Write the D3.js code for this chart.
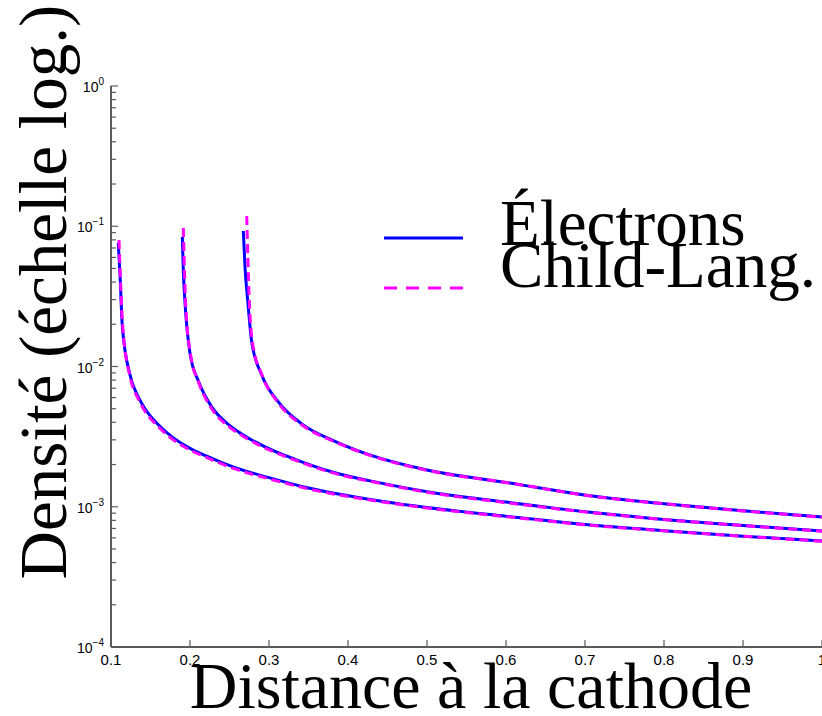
<!DOCTYPE html>
<html>
<head>
<meta charset="utf-8">
<script src="https://cdn.jsdelivr.net/npm/d3@7"></script>
<style>
  body { margin: 0; background: #fff; }
  svg { display: block; }
  .tick_label { font-family: "Liberation Sans", Arial, sans-serif; fill: #000; }
  .big_text { font-family: "Liberation Serif", "Times New Roman", serif; fill: #000; }
</style>
</head>
<body>
<svg></svg>
<script>
let svgWidth = 822;
let svgHeight = 716;

// three density profiles (distance, density)
let elec1_x = [0.1092, 0.1114, 0.1143, 0.1241, 0.135, 0.143, 0.16, 0.1768, 0.2, 0.219, 0.257, 0.2987, 0.35, 0.4405, 0.5, 0.6, 0.719, 0.8, 0.9, 1.0];
let elec1_y = [0.0760, 0.0449, 0.0195, 0.0087, 0.0060, 0.0050, 0.00384, 0.00316, 0.00261, 0.00232, 0.00190, 0.00162, 0.00136, 0.00110, 0.000987, 0.000855, 0.000731, 0.000675, 0.000617, 0.000570];
let elec2_x = [0.1903, 0.1915, 0.1937, 0.2000, 0.2105, 0.2275, 0.25, 0.2654, 0.3076, 0.3329, 0.38, 0.4405, 0.5, 0.6, 0.719, 0.8, 0.9, 1.0];
let elec2_y = [0.0838, 0.0488, 0.0284, 0.0124, 0.0079, 0.00515, 0.0038, 0.00330, 0.00248, 0.00218, 0.00177, 0.00148, 0.00128, 0.00108, 0.000898, 0.000812, 0.000735, 0.000671];
let elec3_x = [0.2675, 0.2696, 0.2730, 0.2781, 0.2908, 0.3118, 0.3414, 0.3835, 0.4405, 0.5, 0.6, 0.719, 0.8, 0.9, 1.0];
let elec3_y = [0.0925, 0.0515, 0.0298, 0.0150, 0.0087, 0.0056, 0.00390, 0.00293, 0.00222, 0.00183, 0.00149, 0.001172, 0.00105, 0.000935, 0.000845];

let child1_x = [0.1101, 0.1150, 0.1245, 0.135, 0.143, 0.16, 0.1768, 0.2, 0.219, 0.257, 0.2987, 0.35, 0.4405, 0.5, 0.6, 0.719, 0.8, 0.9, 1.0];
let child1_y = [0.0798, 0.0188, 0.0083, 0.0058, 0.0048, 0.00372, 0.00306, 0.00254, 0.00227, 0.00186, 0.00159, 0.00134, 0.00109, 0.00098, 0.00085, 0.000728, 0.000673, 0.000616, 0.000568];
let child2_x = [0.1915, 0.1945, 0.2008, 0.2110, 0.2275, 0.25, 0.2654, 0.3076, 0.3329, 0.38, 0.4405, 0.5, 0.6, 0.719, 0.8, 0.9, 1.0];
let child2_y = [0.0972, 0.0278, 0.0121, 0.0077, 0.00500, 0.00370, 0.00323, 0.00244, 0.00215, 0.00175, 0.00147, 0.00127, 0.00107, 0.000895, 0.00081, 0.000734, 0.00067];
let child3_x = [0.2718, 0.2750, 0.2791, 0.2915, 0.3118, 0.3414, 0.3835, 0.4405, 0.5, 0.6, 0.719, 0.8, 0.9, 1.0];
let child3_y = [0.1184, 0.0298, 0.0148, 0.0086, 0.0055, 0.00384, 0.00290, 0.00221, 0.00182, 0.00149, 0.00117, 0.00105, 0.000933, 0.000843];

let x_ticks = [0.1, 0.2, 0.3, 0.4, 0.5, 0.6, 0.7, 0.8, 0.9, 1];
let y_exponents = [0, -1, -2, -3, -4];
let legend_labels = ["Électrons", "Child-Lang."];
let x_title = "Distance à la cathode";
let y_title = "Densité (échelle log.)";

let axisColor = "#5a5a5a";

let svg = d3.select('svg').attr('width', svgWidth).attr('height', svgHeight);

let xScale = d3.scaleLinear().domain([0.1, 1]).range([111, 822]);
let yScale = d3.scaleLog().domain([1e-4, 1]).range([647, 86]);

function setup_axis(){
    let g = svg.append('g');

    // minor ticks on the log axis: 2..9 in each decade
    let minor = [];
    for(let e = -4; e < 0; e++){
        for(let m = 2; m <= 9; m++){
            minor.push(m * Math.pow(10, e));
        }
    }
    g.selectAll('.minor').data(minor).enter().append('line')
        .attr('x1', xScale(0.1)).attr('x2', xScale(0.1) + 5)
        .attr('y1', d => yScale(d)).attr('y2', d => yScale(d))
        .attr('stroke', axisColor).attr('stroke-width', 1.2);

    g.selectAll('.major_y').data(y_exponents).enter().append('line')
        .attr('x1', xScale(0.1)).attr('x2', xScale(0.1) + 7)
        .attr('y1', d => yScale(Math.pow(10, d))).attr('y2', d => yScale(Math.pow(10, d)))
        .attr('stroke', axisColor).attr('stroke-width', 1.2);

    g.selectAll('.major_x').data(x_ticks).enter().append('line')
        .attr('x1', d => xScale(d)).attr('x2', d => xScale(d))
        .attr('y1', yScale(1e-4)).attr('y2', yScale(1e-4) - 7)
        .attr('stroke', axisColor).attr('stroke-width', 1.2);

    // axis lines
    g.append('line')
        .attr('x1', xScale(0.1)).attr('x2', xScale(0.1))
        .attr('y1', yScale(1)).attr('y2', yScale(1e-4))
        .attr('stroke', axisColor).attr('stroke-width', 2);
    g.append('line')
        .attr('x1', xScale(0.1)).attr('x2', xScale(1))
        .attr('y1', yScale(1e-4)).attr('y2', yScale(1e-4))
        .attr('stroke', axisColor).attr('stroke-width', 2);

    // tick labels
    g.selectAll('.xlab').data(x_ticks).enter().append('text')
        .attr('class', 'tick_label')
        .attr('x', d => xScale(d))
        .attr('y', yScale(1e-4) + 18)
        .attr('text-anchor', 'middle')
        .attr('font-size', 15)
        .text(d => d3.format('.1~f')(d));

    let ylab = g.selectAll('.ylab').data(y_exponents).enter().append('text')
        .attr('class', 'tick_label')
        .attr('x', xScale(0.1) - 7)
        .attr('y', d => yScale(Math.pow(10, d)) + 6)
        .attr('text-anchor', 'end')
        .attr('font-size', 14);
    ylab.append('tspan').text('10');
    ylab.append('tspan').attr('font-size', 10).attr('dy', -7)
        .text(d => d === 0 ? '0' : '\u2212' + Math.abs(d));
}

function draw_line(xs, ys, color, dash){
    let pts = xs.map((v, i) => [xScale(v), yScale(ys[i])]);
    let lineFunction = d3.line().curve(d3.curveMonotoneX);
    let path = svg.append('path')
        .attr('d', lineFunction(pts))
        .attr('fill', 'none')
        .attr('stroke', color)
        .attr('stroke-width', 3);
    if(dash){
        path.attr('stroke-dasharray', dash);
    }
}

setup_axis();

draw_line(elec1_x, elec1_y, '#0000ff', null);
draw_line(elec2_x, elec2_y, '#0000ff', null);
draw_line(elec3_x, elec3_y, '#0000ff', null);
draw_line(child1_x, child1_y, '#ff00ff', '9,5');
draw_line(child2_x, child2_y, '#ff00ff', '9,5');
draw_line(child3_x, child3_y, '#ff00ff', '9,5');

// legend
let legend = svg.append('g');
legend.append('line')
    .attr('x1', 384).attr('x2', 463).attr('y1', 238).attr('y2', 238)
    .attr('stroke', '#0000ff').attr('stroke-width', 3);
legend.append('line')
    .attr('x1', 384).attr('x2', 463).attr('y1', 288).attr('y2', 288)
    .attr('stroke', '#ff00ff').attr('stroke-width', 3)
    .attr('stroke-dasharray', '13,9');
legend.append('text').attr('class', 'big_text')
    .attr('x', 500).attr('y', 245).attr('font-size', 65)
    .text(legend_labels[0]);
legend.append('text').attr('class', 'big_text')
    .attr('x', 500).attr('y', 287).attr('font-size', 65)
    .text(legend_labels[1]);

// axis titles
svg.append('text').attr('class', 'big_text')
    .attr('x', 471).attr('y', 708)
    .attr('text-anchor', 'middle')
    .attr('font-size', 66)
    .text(x_title);

svg.append('text').attr('class', 'big_text')
    .attr('transform', 'translate(66,292) rotate(-90)')
    .attr('text-anchor', 'middle')
    .attr('font-size', 67)
    .text(y_title);
</script>
</body>
</html>
